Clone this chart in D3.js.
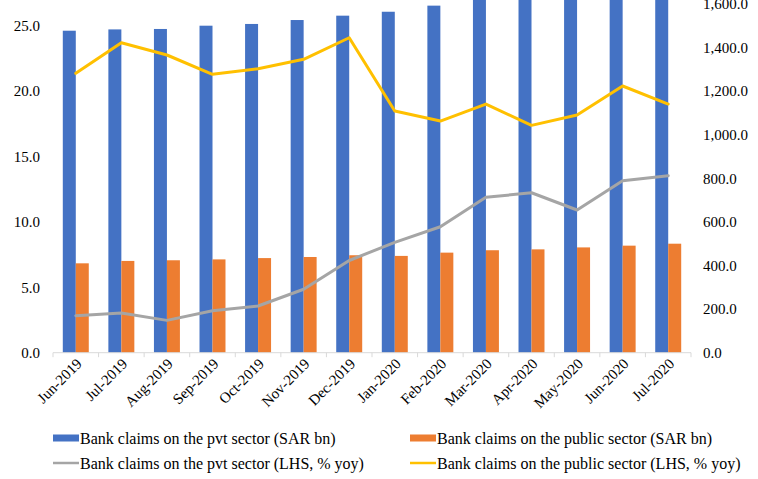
<!DOCTYPE html>
<html>
<head>
<meta charset="utf-8">
<script src="https://cdn.jsdelivr.net/npm/d3@7"></script>
<style>
  body { margin: 0; background: #fff; }
  svg { display: block; }
</style>
</head>
<body>
<svg id="chart" width="758" height="479"></svg>
<script>
// Monthly categories
const months = ["Jun-2019", "Jul-2019", "Aug-2019", "Sep-2019", "Oct-2019", "Nov-2019", "Dec-2019",
                "Jan-2020", "Feb-2020", "Mar-2020", "Apr-2020", "May-2020", "Jun-2020", "Jul-2020"];
// Bank claims, SAR bn (right axis)
const pvtClaims = [1477, 1483, 1485, 1500, 1508, 1526, 1546, 1564, 1592, 1625, 1640, 1655, 1680, 1695];
const pubClaims = [410, 421, 424, 428, 434, 439, 447, 444, 459, 470, 474, 483, 491, 500];
// Year-on-year growth, % (left axis)
const pvtYoy = [2.83, 3.03, 2.47, 3.21, 3.57, 4.85, 7.05, 8.44, 9.63, 11.88, 12.23, 10.91, 13.15, 13.53];
const pubYoy = [21.36, 23.70, 22.76, 21.28, 21.71, 22.43, 24.08, 18.48, 17.71, 19.01, 17.38, 18.17, 20.39, 19.01];
// Axis ticks shown
const leftTicks = [0, 5, 10, 15, 20, 25];
const rightTicks = [0, 200, 400, 600, 800, 1000, 1200, 1400, 1600];

const colors = { pvtBar: "#4472C4", pubBar: "#ED7D31", pvtLine: "#A5A5A5", pubLine: "#FFC000" };
const FONT = "'Liberation Serif', Tinos, 'Times New Roman', Times, 'DejaVu Serif', serif";

const svg = d3.select("#chart");
const plotLeft = 53, plotRight = 691, plotBottom = 352.7, plotTop = -39.7;

const x = d3.scaleBand().domain(months).range([plotLeft, plotRight]).paddingInner(0).paddingOuter(0);
const yL = d3.scaleLinear().domain([0, 30]).range([plotBottom, plotTop]);
const yR = d3.scaleLinear().domain([0, 1800]).range([plotBottom, plotTop]);

const barW = x.bandwidth() * 0.285;

// Bars
const groups = svg.append("g").selectAll("g").data(months).join("g")
  .attr("transform", d => `translate(${x(d) + x.bandwidth() / 2},0)`);
groups.append("rect")
  .attr("x", -barW).attr("width", barW)
  .attr("y", (d, i) => yR(pvtClaims[i])).attr("height", (d, i) => plotBottom - yR(pvtClaims[i]))
  .attr("fill", colors.pvtBar);
groups.append("rect")
  .attr("x", 0).attr("width", barW)
  .attr("y", (d, i) => yR(pubClaims[i])).attr("height", (d, i) => plotBottom - yR(pubClaims[i]))
  .attr("fill", colors.pubBar);

// X axis line and boundary tick marks
const axisG = svg.append("g");
axisG.append("line").attr("x1", plotLeft).attr("x2", plotRight).attr("y1", plotBottom).attr("y2", plotBottom)
  .attr("stroke", "#D9D9D9").attr("stroke-width", 1);
const bounds = months.map(m => x(m)).concat([plotRight]);
axisG.selectAll("line.tk").data(bounds).join("line").attr("class", "tk")
  .attr("x1", d => d).attr("x2", d => d).attr("y1", plotBottom).attr("y2", plotBottom + 4.5)
  .attr("stroke", "#D9D9D9").attr("stroke-width", 1);

// X labels (rotated)
const xAxis = svg.append("g").attr("transform", `translate(0,${plotBottom})`)
  .call(d3.axisBottom(x).tickSize(0).tickPadding(0));
xAxis.select(".domain").remove();
xAxis.selectAll("text")
  .style("font-family", FONT).style("font-size", "15px").attr("fill", "#000")
  .attr("text-anchor", "end")
  .attr("dy", 0)
  .attr("transform", "translate(7,12) rotate(-45)");

// Lines
const line = (vals) => d3.line()
  .x((d, i) => x(months[i]) + x.bandwidth() / 2)
  .y(d => yL(d))(vals);
svg.append("path").attr("d", line(pvtYoy)).attr("fill", "none")
  .attr("stroke", colors.pvtLine).attr("stroke-width", 3).attr("stroke-linejoin", "round").attr("stroke-linecap", "round");
svg.append("path").attr("d", line(pubYoy)).attr("fill", "none")
  .attr("stroke", colors.pubLine).attr("stroke-width", 3).attr("stroke-linejoin", "round").attr("stroke-linecap", "round");

// Left axis (% yoy)
const la = svg.append("g").attr("transform", `translate(${plotLeft},0)`)
  .call(d3.axisLeft(yL).tickValues(leftTicks).tickFormat(d3.format(".1f")).tickSize(0).tickPadding(13));
la.select(".domain").remove();
la.selectAll("text").style("font-family", FONT).style("font-size", "15px").attr("fill", "#000");

// Right axis (SAR bn)
const ra = svg.append("g").attr("transform", `translate(${plotRight},0)`)
  .call(d3.axisRight(yR).tickValues(rightTicks).tickFormat(d3.format(",.1f")).tickSize(0).tickPadding(12));
ra.select(".domain").remove();
ra.selectAll("text").style("font-family", FONT).style("font-size", "15px").attr("fill", "#000");

// Legend
const legendItems = [
  { label: "Bank claims on the pvt sector (SAR bn)", color: colors.pvtBar, type: "bar", x: 53, y: 438 },
  { label: "Bank claims on the public sector (SAR bn)", color: colors.pubBar, type: "bar", x: 410, y: 438 },
  { label: "Bank claims on the pvt sector (LHS, % yoy)", color: colors.pvtLine, type: "line", x: 53, y: 463 },
  { label: "Bank claims on the public sector (LHS, % yoy)", color: colors.pubLine, type: "line", x: 410, y: 463 }
];
const lg = svg.append("g").selectAll("g").data(legendItems).join("g")
  .attr("transform", d => `translate(${d.x},${d.y})`);
lg.filter(d => d.type === "bar").append("rect")
  .attr("x", 0).attr("y", -3.5).attr("width", 26).attr("height", 7).attr("fill", d => d.color);
lg.filter(d => d.type === "line").append("line")
  .attr("x1", 0).attr("x2", 26).attr("y1", 0).attr("y2", 0)
  .attr("stroke", d => d.color).attr("stroke-width", 2.5);
lg.append("text").attr("x", 27).attr("y", 0).attr("dy", "0.35em")
  .style("font-family", FONT).style("font-size", "16px").attr("fill", "#000")
  .text(d => d.label);
</script>
</body>
</html>
